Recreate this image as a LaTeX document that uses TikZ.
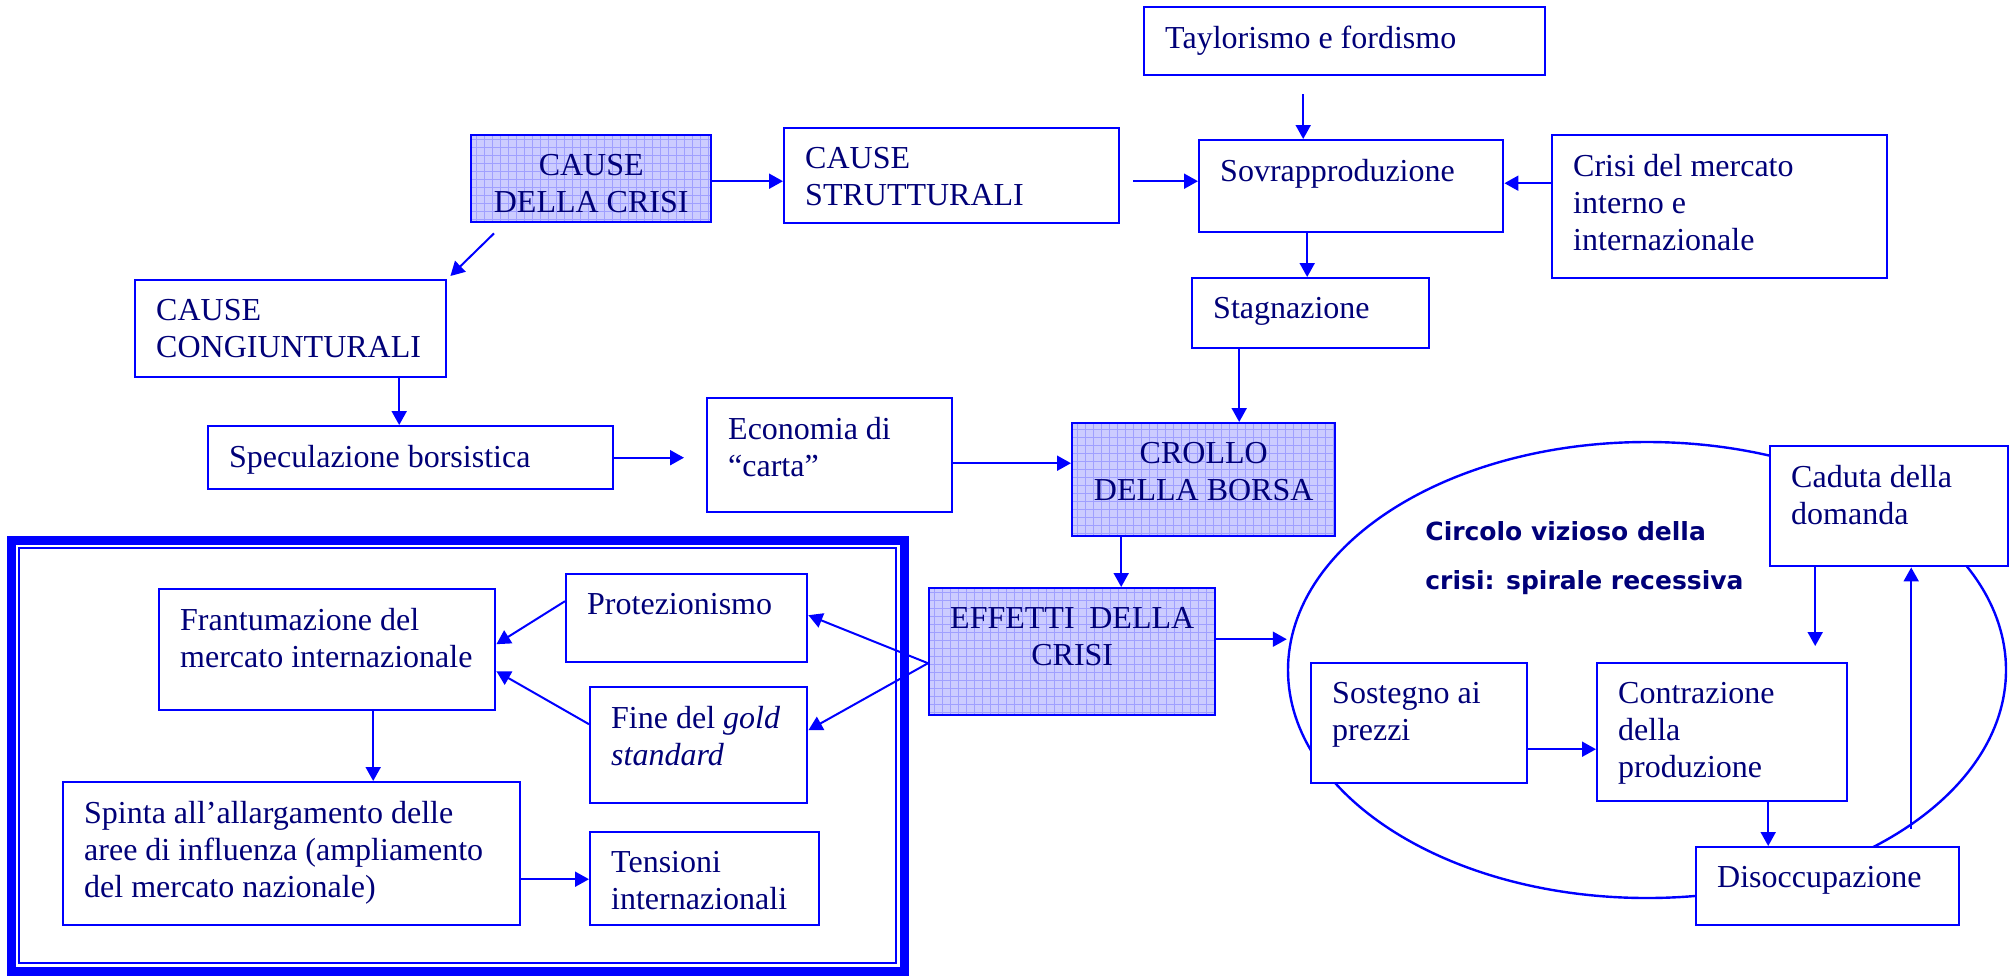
\documentclass[tikz,border=0pt]{standalone}
\usepackage{fontspec}
\setmainfont{Liberation Serif}
\newfontfamily\circfont{DejaVu Sans}
\usepackage{tikz}
\usetikzlibrary{arrows.meta,positioning,shapes.geometric,calc}
\usepackage{xcolor}
\definecolor{boxblue}{RGB}{0,0,255}
\definecolor{textnavy}{RGB}{0,0,120}
\definecolor{shadefill}{RGB}{204,204,255}
\definecolor{gridblue}{RGB}{160,160,255}
\newlength{\pxu}\setlength{\pxu}{0.5pt}
% box contents: width and height in px, text from the top left
\newcommand{\boxtext}[3]{\parbox[b][\dimexpr#2\pxu-19pt\relax][t]{\dimexpr#1\pxu-21pt\relax}{\raggedright #3}}
\newcommand{\boxtextc}[3]{\parbox[b][\dimexpr#2\pxu-19pt\relax][t]{\dimexpr#1\pxu-21pt\relax}{\centering #3}}

\begin{document}
\begin{tikzpicture}[x=0.5pt,y=-0.5pt,
    tbox/.style={draw=boxblue,line width=1.2pt,fill=white,anchor=north west,
        inner xsep=10.5pt,inner ysep=9.5pt,text=textnavy,font=\fontsize{16}{18.5}\selectfont},
    shaded/.style={fill=shadefill,path picture={
        \draw[gridblue,line width=0.35pt,step=4pt] (path picture bounding box.south west) grid (path picture bounding box.north east);}},
    arr/.style={draw=boxblue,line width=1pt,-{Triangle[length=7pt,width=7.5pt]}}]
    \useasboundingbox (0,0) rectangle (2013,976);

    % circolo vizioso
    \node[draw=boxblue,line width=1.2pt,ellipse,minimum width=359pt,minimum height=228pt,inner sep=0] (circolo) at (1647,670) {};
    \node[anchor=north west,inner sep=0,align=left,text=textnavy,font=\circfont\bfseries\fontsize{12.5}{24.5}\selectfont] (titolo) at (1425,521) {Circolo vizioso della\\crisi: spirale recessiva};

    % frame of the effects
    \draw[boxblue,line width=4.5pt] (11,540) rectangle (904,971);
    \draw[boxblue,line width=0.9pt] (19,548) rectangle (896,963);

    % causes
    \node[tbox] (tay) at (1143,6) {\boxtext{401}{68}{Taylorismo e fordismo}};
    \node[tbox] (sovra) at (1198,139) {\boxtext{304}{92}{Sovrapproduzione}};
    \node[tbox] (crisimerc) at (1551,134) {\boxtext{335}{143}{Crisi del mercato\\interno e\\internazionale}};
    \node[tbox,shaded] (causecrisi) at (470,134) {\boxtextc{240}{87}{CAUSE\\DELLA CRISI}};
    \node[tbox] (causestrut) at (783,127) {\boxtext{335}{95}{CAUSE\\STRUTTURALI}};
    \node[tbox] (causecong) at (134,279) {\boxtext{311}{97}{CAUSE\\CONGIUNTURALI}};
    \node[tbox] (stag) at (1191,277) {\boxtext{237}{70}{Stagnazione}};
    \node[tbox] (spec) at (207,425) {\boxtext{405}{63}{Speculazione borsistica}};
    \node[tbox] (econ) at (706,397) {\boxtext{245}{114}{Economia di\\“carta”}};
    \node[tbox,shaded] (crollo) at (1071,422) {\boxtextc{263}{113}{CROLLO\\DELLA BORSA}};

    % effects
    \node[tbox,shaded] (effetti) at (928,587) {\boxtextc{286}{127}{EFFETTI~~DELLA\\CRISI}};
    \node[tbox] (caduta) at (1769,445) {\boxtext{238}{120}{Caduta della\\domanda}};
    \node[tbox] (sostegno) at (1310,662) {\boxtext{216}{120}{Sostegno ai\\prezzi}};
    \node[tbox] (contr) at (1596,662) {\boxtext{250}{138}{Contrazione\\della\\produzione}};
    \node[tbox] (disocc) at (1695,846) {\boxtext{263}{78}{Disoccupazione}};
    \node[tbox] (frant) at (158,588) {\boxtext{336}{121}{Frantumazione del\\mercato internazionale}};
    \node[tbox] (prot) at (565,573) {\boxtext{241}{88}{Protezionismo}};
    \node[tbox] (gold) at (589,686) {\boxtext{217}{116}{Fine del \textit{gold}\\\textit{standard}}};
    \node[tbox] (spinta) at (62,781) {\boxtext{457}{143}{Spinta all’allargamento delle\\aree di influenza (ampliamento\\del mercato nazionale)}};
    \node[tbox] (tens) at (589,831) {\boxtext{229}{93}{Tensioni\\internazionali}};

    % arrows of the causes
    \draw[arr,shorten <=9pt] ([xshift=-20.75pt]tay.south) -- ([xshift=-20.75pt]tay.south |- sovra.north);
    \draw[arr,shorten <=6.5pt] ([yshift=-2.75pt]causestrut.east) -- ([yshift=-2.75pt]causestrut.east -| sovra.west);
    \draw[arr] ([yshift=1.5pt]sovra.east -| crisimerc.west) -- ([yshift=1.5pt]sovra.east);
    \draw[arr] ([yshift=-1.25pt]causecrisi.east) -- ([yshift=-1.25pt]causecrisi.east -| causestrut.west);
    \draw[arr] ([xshift=12pt,yshift=-5pt]causecrisi.south west) -- ([xshift=1.5pt,yshift=1.5pt]causecong.north east);
    \draw[arr] ([xshift=-22pt]sovra.south) -- ([xshift=-22pt]sovra.south |- stag.north);
    \draw[arr] ([xshift=-35.75pt]stag.south) -- ([xshift=-35.75pt]stag.south |- crollo.north);
    \draw[arr] ([xshift=54.25pt]causecong.south) -- ([xshift=54.25pt]causecong.south |- spec.north);
    \draw[arr,shorten >=11pt] (spec.east) -- (spec.east -| econ.west);
    \draw[arr] ([yshift=-4pt]econ.east) -- ([yshift=-4pt]econ.east -| crollo.west);
    \draw[arr] ([xshift=-41.25pt]crollo.south) -- ([xshift=-41.25pt]crollo.south |- effetti.north);

    % arrows of the effects
    \coordinate (efw) at ([yshift=-5.75pt]effetti.west);
    \draw[arr] ([yshift=6.25pt]effetti.east) -- ([yshift=6.25pt]effetti.east -| circolo.west);
    \draw[arr] (efw) -- ([yshift=1.5pt]prot.east);
    \draw[arr] (efw) -- ([yshift=7.5pt]gold.east);
    \draw[arr] ([yshift=8.5pt]prot.west) -- ([yshift=2.75pt]frant.east);
    \draw[arr] ([yshift=10.5pt]gold.west) -- ([yshift=-10.75pt]frant.east);
    \draw[arr] ([xshift=23pt]frant.south) -- ([xshift=23pt]frant.south |- spinta.north);
    \draw[arr] ([yshift=-12.75pt]spinta.east) -- ([yshift=-12.75pt]spinta.east -| tens.west);

    % spirale recessiva
    \draw[arr] ([yshift=-13pt]sostegno.east) -- ([yshift=-13pt]sostegno.east -| contr.west);
    \draw[arr,shorten >=8pt] ([xshift=-37pt]caduta.south) -- ([xshift=-37pt]caduta.south |- contr.north);
    \draw[arr] ([xshift=23pt]contr.south) -- ([xshift=23pt]contr.south |- disocc.north);
    \draw[arr,shorten <=8.5pt] ([xshift=41.75pt]disocc.north) -- ([xshift=41.75pt]disocc.north |- caduta.south);
\end{tikzpicture}
\end{document}
